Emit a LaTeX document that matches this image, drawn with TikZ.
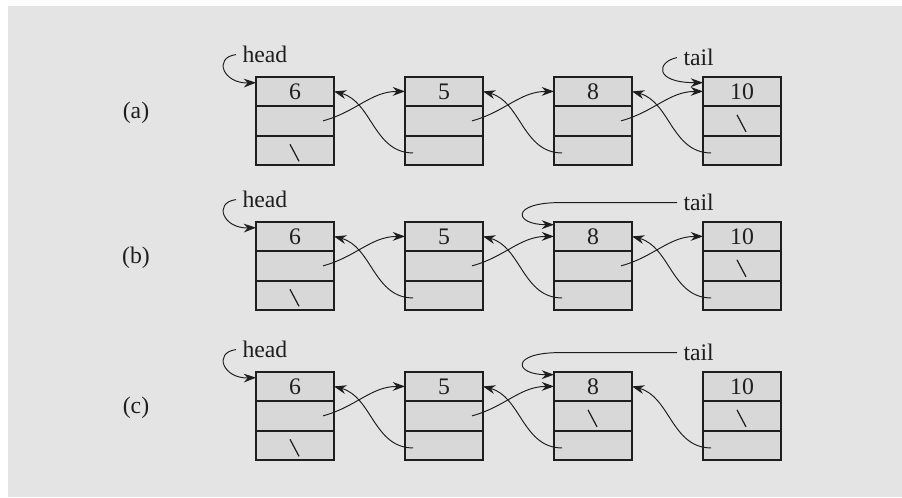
\documentclass[tikz,border=0pt]{standalone}
\usepackage{fontspec}
\setmainfont{Liberation Serif}
\usetikzlibrary{positioning,calc,arrows.meta}

\definecolor{panel}{RGB}{228,228,228}
\definecolor{cellfill}{RGB}{216,216,216}
\definecolor{ink}{RGB}{30,30,30}

% the "\" mark of an empty link field
\newcommand{\nullmark}[1]{\draw[nul] ($(#1.center)+(-5,-6)$) -- ++(9,17);}

\begin{document}
\begin{tikzpicture}[
  x=0.02cm, y=-0.02cm,
  txt/.style={font=\fontsize{13.5}{15}\selectfont, text=ink},
  cell/.style={txt, outer sep=0pt, inner sep=0pt,
               minimum width=1.56cm, minimum height=0.589cm},
  frame/.style={draw=ink, line width=1.1pt},
  lbl/.style={txt, inner sep=3.5pt, anchor=base west},
  ptr/.style={-{Stealth[length=7pt,width=5pt]}, line width=0.55pt, draw=ink},
  nul/.style={line width=0.7pt, draw=ink}
]
\useasboundingbox (0,0) rectangle (902,497);
\fill[panel] (8,6) rectangle (902,497);

% three lists, four nodes each: value, next, prev
\foreach \rw/\rowy in {a/76.7,b/221.7,c/371.7} {
  \node[txt] (\rw lab) at (136,\rowy+36.5) {(\rw)};
  \foreach \v [count=\i] in {6,5,8,10} {
    \fill[cellfill] (107+149*\i,\rowy) rectangle ++(78,88.3);
    \node[cell] (\rw\i) at (146+149*\i,\rowy+14.7) {\v};
    \node[cell,below=0pt of \rw\i] (\rw\i n) {};
    \node[cell,below=0pt of \rw\i n] (\rw\i p) {};
    \draw[frame] (\rw\i.north west) rectangle (\rw\i p.south east)
      (\rw\i n.north west) -- (\rw\i n.north east)
      (\rw\i n.south west) -- (\rw\i n.south east);
  }
  \node[lbl] (\rw head) at (236,\rowy-14) {head};
  \node[lbl] (\rw tail) at (677,\rowy-11) {tail};
  \draw[ptr] (\rw head.west) .. controls +(-23,3) and +(-33,1) .. ($(\rw1.north west)+(0,6)$);
}

% links
\foreach \rw in {a,b}
  \foreach \i/\j in {1/2,2/3,3/4} {
    \draw[ptr] ([xshift=-0.22cm]\rw\i n.east) to[out=15,in=180] (\rw\j.west);
    \draw[ptr] ([xshift=0.16cm,yshift=-1.5pt]\rw\j p.west) to[out=180,in=-15] (\rw\i.east);
  }
\foreach \i/\j in {1/2,2/3} {
  \draw[ptr] ([xshift=-0.22cm]c\i n.east) to[out=15,in=180] (c\j.west);
  \draw[ptr] ([xshift=0.16cm,yshift=-1.5pt]c\j p.west) to[out=180,in=-15] (c\i.east);
}
\draw[ptr] ([xshift=0.16cm,yshift=-1.5pt]c4p.west) to[out=180,in=-15] (c3.east);

% tail pointers
\draw[ptr] (atail.west) .. controls +(-20,4) and +(-50,0) .. ($(a4.north west)+(0,6)$);
\draw[ptr] (btail.west) -- ++(-117,0) .. controls +(-50,0) and +(-40,0) .. ($(b3.north west)+(0,3)$);
\draw[ptr] (ctail.west) -- ++(-117,0) .. controls +(-50,0) and +(-40,0) .. ($(c3.north west)+(0,3)$);

% empty links
\nullmark{a1p} \nullmark{a4n}
\nullmark{b1p} \nullmark{b4n}
\nullmark{c1p} \nullmark{c3n} \nullmark{c4n}
\end{tikzpicture}
\end{document}
